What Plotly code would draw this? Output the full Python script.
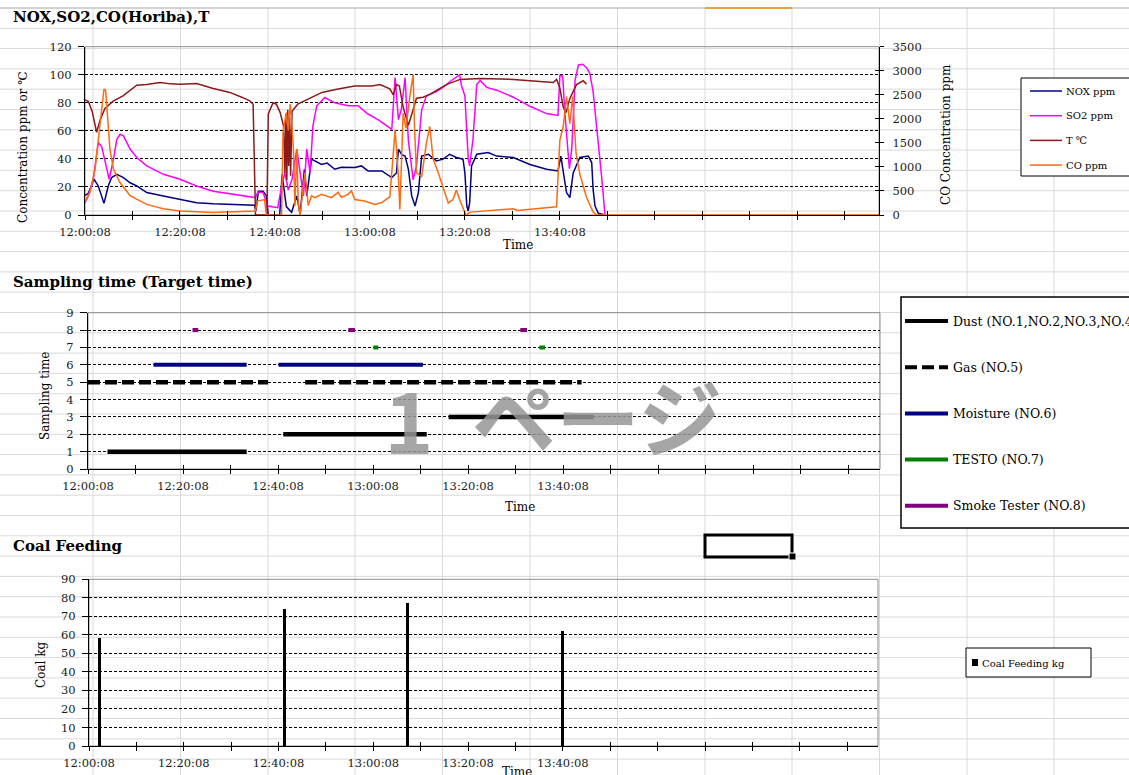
import pandas as pd
import plotly.graph_objects as go

W, H = 1129, 775
DAY = "2000-01-01 "
START = pd.Timestamp(DAY + "12:00:08")

# ---------------- Flue gas analyser (minutes after 12:00:08) ----------------
nox_min = [0, 0.7, 1.9, 2.8, 4.0, 4.9, 5.6, 6.7, 8.1, 9.5,
           10.9, 13.0, 16.5, 20.0, 23.5, 27.0, 34.0, 35.7, 36.0, 36.5,
           37.5, 38.2, 38.6, 41.0, 41.5, 42.4, 43.5, 44.6, 45.3, 46.2,
           46.7, 47.0, 47.7, 49.8, 51.0, 52.6, 54.0, 56.8, 58.2, 59.6,
           62.5, 64.6, 65.6, 66.0, 66.7, 67.4, 68.1, 68.8, 69.5, 70.2,
           70.9, 72.3, 74.0, 75.4, 76.8, 78.2, 79.6, 80.0, 80.4, 80.7,
           81.0, 81.4, 82.5, 84.9, 86.7, 90.2, 93.7, 97.2, 99.6, 100.2,
           100.7, 101.4, 102.1, 102.8, 104.2, 106.0, 106.7, 107.0, 107.4, 108.1,
           109.5]
nox_ppm = [14, 15.5, 25.5, 20.7, 8.3, 20.7, 26.7, 29, 26.7, 23,
           20.7, 16, 13.6, 11.2, 8.8, 8, 7.6, 7, 3, 17,
           17, 13.6, 0, 0, 29, 6, 2, 13.6, 0.5, 32.6,
           13.6, 20.7, 39.8, 36, 37, 32.6, 34, 33.8, 35, 31.4,
           31.4, 26.7, 30, 47, 43, 42, 32.6, 13.6, 6.4, 16,
           42, 43.3, 38.6, 39.8, 43.3, 41, 39.8, 30, 6.4, 2.9,
           8.8, 35, 43.3, 44.5, 42, 41, 36, 32.6, 31.4, 42,
           30, 16, 12.4, 30, 41, 42, 37.4, 18.3, 6.4, 1.2,
           0]

so2_min = [0, 0.7, 1.75, 2.8, 3.5, 4.55, 5.1, 6.0, 6.7, 7.4,
           8.1, 9.5, 10.9, 13.0, 16.5, 20.0, 23.5, 27.0, 30.5, 34.0,
           35.9, 36.4, 37.5, 38.5, 40.6, 41.4, 42.1, 42.8, 43.6, 44.6,
           45.3, 46.0, 46.7, 47.4, 48.0, 48.8, 50.5, 52.6, 55.4, 57.5,
           59.6, 61.7, 63.8, 64.6, 65.3, 66.0, 66.6, 67.4, 68.1, 69.1,
           69.8, 70.9, 71.9, 74.0, 75.8, 76.8, 78.9, 79.3, 80.0, 80.7,
           81.0, 81.7, 82.5, 83.2, 84.6, 86.7, 90.2, 93.7, 97.2, 99.6,
           100.0, 100.6, 101.0, 102.0, 102.5, 103.2, 103.9, 104.8, 105.6, 106.3,
           107.0, 108.1, 108.8, 109.5]
so2_ppm = [8.8, 13.6, 25.5, 51.7, 49, 32.6, 25.5, 39.8, 54, 57.6,
           56.4, 47, 41, 35, 29, 25.5, 20.7, 17, 15.2, 13.6,
           12.4, 16.4, 16, 6.4, 5.2, 20.7, 30, 18, 25.5, 47,
           30, 13.6, 47, 30, 63.6, 77.9, 83.8, 80, 77.9, 77.9,
           72, 68, 63, 61, 98, 68, 75, 98, 53, 25,
           35, 75, 85, 88, 92, 95, 100, 92, 85, 40,
           35, 54, 93, 96, 91, 89, 84, 77.5, 72.3, 71,
           99.5, 99, 75, 33, 47, 96, 107, 107.5, 105, 101,
           88, 53, 27, 0]

temp_min = [0, 0.7, 1.5, 2.45, 3.2, 4.2, 6.0, 8.0, 10.9, 13.0,
            15.8, 18.0, 20.0, 23.5, 27.0, 30.5, 33.0, 34.7, 35.4, 35.9,
            38.3, 38.6, 39.6, 40.3, 41.1, 41.8, 42.1, 42.3, 42.5, 42.7,
            42.9, 43.1, 43.3, 43.6, 44.8, 47.8, 49.9, 53.3, 56.8, 60.4,
            62.1, 64.2, 64.9, 65.6, 66.2, 67.0, 68.1, 69.1, 69.8, 71.2,
            72.6, 76.1, 79.0, 83.2, 90.2, 93.7, 98.6, 99.3, 100.0, 100.7,
            101.3, 102.1, 103.5, 104.9, 105.6]
temp_c = [82, 81, 74, 59, 68, 76, 81.4, 85, 92.6, 93,
          94.5, 93.5, 93.3, 93.8, 90.2, 87.4, 84, 81.4, 79, 0,
          0, 72, 80, 79, 73, 63.6, 30, 72, 25, 75,
          35, 70, 28, 74, 79, 84, 87.4, 89.8, 92, 92,
          93, 90, 85.7, 93, 92, 77, 64, 75, 83.3, 84,
          86, 93, 96.7, 97.4, 96.7, 95.7, 94.5, 96.7, 90.5, 77,
          73, 83, 93, 95.7, 93.3]

co_min = [0, 1.05, 2.1, 3.15, 4.0, 4.35, 4.7, 5.25, 6.0, 7.4,
          9.5, 13.0, 16.5, 20.0, 27.0, 34.0, 35.9, 36.3, 37.8, 38.2,
          41.4, 41.7, 42.4, 42.8, 43.2, 43.5, 43.9, 44.2, 44.6, 44.9,
          45.3, 46.0, 46.3, 46.7, 47.0, 47.7, 48.4, 49.8, 50.8, 51.9,
          53.3, 54.0, 55.4, 56.1, 56.8, 58.9, 61.0, 62.5, 64.2, 65.3,
          66.0, 66.3, 67.0, 67.6, 68.4, 69.1, 69.4, 69.8, 70.9, 71.9,
          72.6, 73.3, 74.4, 75.4, 76.5, 77.5, 78.2, 78.9, 80.2, 81.1,
          86.7, 90.2, 91.0, 97.2, 99.3, 100.0, 100.7, 101.4, 102.1, 102.7,
          103.4, 104.2, 105.6, 107.0, 107.7, 167.2]
co_ppm = [290, 470, 950, 1855, 2620, 2585, 2060, 1370, 950, 670,
          400, 220, 130, 85, 50, 70, 85, 290, 320, 0,
          0, 1715, 2130, 1760, 2305, 1970, 1370, 190, 1370, 260,
          0, 600, 870, 530, 200, 400, 360, 430, 400, 360,
          470, 370, 430, 500, 320, 290, 220, 260, 380, 1770,
          800, 115, 2120, 1800, 2465, 2917, 1800, 875, 800, 1500,
          1840, 1170, 875, 560, 250, 320, 520, 320, 0, 60,
          95, 130, 95, 150, 170, 1560, 1840, 2465, 1900, 2465,
          1290, 850, 370, 60, 0, 0]

gas_names = ["NOX ppm", "SO2 ppm", "T \u2103", "CO ppm"]
gas_colors = ["#000080", "#FF00FF", "#8B1A1A", "#FF6A10"]

# ---------------- Sampling periods (level on the y axis) ----------------
dust_level = [1, 2, 3]
dust_start = ["12:04:14", "12:41:14", "13:16:02"]
dust_end = ["12:33:32", "13:11:26", "13:46:32"]
gas_level = 5
gas_start = ["12:00:08", "12:45:50"]
gas_end = ["12:38:02", "13:44:02"]
moist_level = 6
moist_start = ["12:13:56", "12:40:14"]
moist_end = ["12:33:32", "13:10:38"]
testo_level = 7
testo_start = ["13:00:12", "13:35:08"]
testo_end = ["13:01:14", "13:36:20"]
smoke_level = 8
smoke_start = ["12:22:08", "12:54:56", "13:31:08"]
smoke_end = ["12:23:20", "12:56:20", "13:32:32"]

sampling_names = ["Dust (NO.1,NO.2,NO.3,NO.4)", "Gas (NO.5)", "Moisture (NO.6)",
                  "TESTO (NO.7)", "Smoke Tester (NO.8)"]

# ---------------- Coal feeding ----------------
coal_time = ["12:02:18", "12:41:29", "13:07:20", "13:40:08"]
coal_kg = [58, 74, 77, 62]

time_labels = ["12:00:08", "12:20:08", "12:40:08", "13:00:08", "13:20:08", "13:40:08"]


def at(minutes):
    return [START + pd.Timedelta(minutes=m) for m in minutes]


def clock(times):
    return [pd.Timestamp(DAY + t) for t in times]


def runs(starts, ends, levels):
    xs, ys = [], []
    for s, e, lv in zip(starts, ends, levels):
        xs += [pd.Timestamp(DAY + s), pd.Timestamp(DAY + e), None]
        ys += [lv, lv, None]
    return xs, ys


def px(x):
    return x / W


def py(y):
    return 1 - y / H


SERIF = "DejaVu Serif"
TICKFONT = dict(family=SERIF, size=11.5, color="#1a1a1a")

tick_times = at([10 * k for k in range(17)])
tick_text = [t.strftime("%H:%M:%S") if t.strftime("%H:%M:%S") in time_labels else "" for t in tick_times]

fig = go.Figure()

# empty traces so that the helper axes (dashed grids, inner tick marks) get drawn
for xa, ya in [("x", "y5"), ("x", "y6"), ("x4", "y"), ("x2", "y7"), ("x5", "y3"), ("x3", "y8"), ("x6", "y4")]:
    fig.add_trace(go.Scatter(x=[None], y=[None], mode="lines", xaxis=xa, yaxis=ya,
                             showlegend=False, hoverinfo="skip"))

# --- top: concentrations ---
for mins, vals, name, col, ax in [
    (nox_min, nox_ppm, gas_names[0], gas_colors[0], "y"),
    (so2_min, so2_ppm, gas_names[1], gas_colors[1], "y"),
    (temp_min, temp_c, gas_names[2], gas_colors[2], "y"),
    (co_min, co_ppm, gas_names[3], gas_colors[3], "y2"),
]:
    fig.add_trace(go.Scatter(x=at(mins), y=vals, name=name, mode="lines",
                             line=dict(color=col, width=1.5),
                             xaxis="x", yaxis=ax, showlegend=False))

# --- middle: sampling periods ---
sx, sy = runs(dust_start, dust_end, dust_level)
fig.add_trace(go.Scatter(x=sx, y=sy, mode="lines", name=sampling_names[0],
                         line=dict(color="black", width=4.5), xaxis="x2", yaxis="y3", showlegend=False))
sx, sy = runs(gas_start, gas_end, [gas_level] * len(gas_start))
fig.add_trace(go.Scatter(x=sx, y=sy, mode="lines", name=sampling_names[1],
                         line=dict(color="black", width=4.5, dash="12px,5px"), xaxis="x2", yaxis="y3", showlegend=False))
sx, sy = runs(moist_start, moist_end, [moist_level] * len(moist_start))
fig.add_trace(go.Scatter(x=sx, y=sy, mode="lines", name=sampling_names[2],
                         line=dict(color="#000080", width=4), xaxis="x2", yaxis="y3", showlegend=False))
sx, sy = runs(testo_start, testo_end, [testo_level] * len(testo_start))
fig.add_trace(go.Scatter(x=sx, y=sy, mode="lines", name=sampling_names[3],
                         line=dict(color="#008000", width=4), xaxis="x2", yaxis="y3", showlegend=False))
sx, sy = runs(smoke_start, smoke_end, [smoke_level] * len(smoke_start))
fig.add_trace(go.Scatter(x=sx, y=sy, mode="lines", name=sampling_names[4],
                         line=dict(color="#800080", width=4), xaxis="x2", yaxis="y3", showlegend=False))

# --- bottom: coal feeding ---
fig.add_trace(go.Bar(x=clock(coal_time), y=coal_kg, width=38000, marker=dict(color="black", line=dict(width=0)),
                     name="Coal Feeding kg", xaxis="x3", yaxis="y4", showlegend=False))


def xmain(dom, rng_min, anchor):
    return dict(domain=[px(dom[0]), px(dom[1])], anchor=anchor, type="date",
                range=[START, START + pd.Timedelta(minutes=rng_min)],
                tickmode="array", tickvals=tick_times, ticktext=tick_text,
                ticks="outside", ticklen=4, tickwidth=1.3, tickcolor="black",
                showline=True, linecolor="black", linewidth=1.3, showgrid=False,
                zeroline=False, tickfont=TICKFONT, layer="below traces", ticklabelstandoff=2)


def xover(over, rng_min, anchor):
    return dict(overlaying=over, anchor=anchor, type="date",
                range=[START, START + pd.Timedelta(minutes=rng_min)],
                tickmode="array", tickvals=tick_times, ticks="inside", ticklen=4,
                tickwidth=1.3, tickcolor="black", showticklabels=False,
                showline=False, showgrid=False, zeroline=False)


def ymain(dom, rng, vals, anchor, ticklen=6):
    return dict(domain=[py(dom[0]), py(dom[1])], anchor=anchor, range=rng,
                tickmode="array", tickvals=vals, ticks="outside", ticklen=ticklen,
                tickwidth=1.3, tickcolor="black", showline=True, linecolor="black",
                linewidth=1.3, showgrid=False, zeroline=False, tickfont=TICKFONT,
                ticklabelstandoff=4)


def ygrid(over, rng, vals, anchor):
    return dict(overlaying=over, anchor=anchor, range=rng, tickmode="array", tickvals=vals,
                showgrid=True, gridcolor="black", griddash="3px,2px", gridwidth=1,
                ticks="", showticklabels=False, showline=False, zeroline=False)


co_ticks = list(range(0, 3501, 500))

fig.update_layout(
    xaxis=xmain((85, 879), 167.2, "y"),
    xaxis4=xover("x", 167.2, "y"),
    yaxis=ymain((215, 46.7), [0, 120], list(range(0, 121, 20)), "x"),
    yaxis2=dict(overlaying="y", side="right", anchor="x", range=[0, 3500],
                tickmode="array", tickvals=co_ticks, ticks="outside", ticklen=4,
                tickwidth=1.3, tickcolor="black", showline=True, linecolor="black",
                linewidth=1.3, showgrid=False, zeroline=False, tickfont=TICKFONT,
                ticklabelstandoff=6),
    yaxis5=ygrid("y", [0, 120], list(range(20, 101, 20)), "x"),
    yaxis6=dict(overlaying="y", side="right", anchor="x", range=[0, 3500],
                tickmode="array", tickvals=co_ticks, ticks="inside", ticklen=4,
                tickwidth=1.3, tickcolor="black", showticklabels=False,
                showline=False, showgrid=False, zeroline=False),
    xaxis2=xmain((88, 880), 166.7, "y3"),
    xaxis5=xover("x2", 166.7, "y3"),
    yaxis3=ymain((469, 312.7), [0, 9], list(range(0, 10)), "x2", ticklen=7),
    yaxis7=ygrid("y3", [0, 9], list(range(1, 9)), "x2"),
    xaxis3=xmain((89, 878), 166.5, "y4"),
    xaxis6=xover("x3", 166.5, "y4"),
    yaxis4=ymain((746, 579.3), [0, 90], list(range(0, 91, 10)), "x3", ticklen=6),
    yaxis8=ygrid("y4", [0, 90], list(range(10, 81, 10)), "x3"),
)

shapes = []
# worksheet cell lines
col_x = [93, 180.5, 268, 355, 442.5, 530, 617.5, 705, 792, 879.5, 967, 1054]
for cx in col_x:
    shapes.append(dict(type="line", xref="paper", yref="paper", x0=px(cx), x1=px(cx), y0=py(8), y1=py(H),
                       line=dict(color="#d9d9d9", width=1), layer="below"))
for k in range(1, 38):
    ry = 8 + 20.3 * k
    shapes.append(dict(type="line", xref="paper", yref="paper", x0=0, x1=1, y0=py(ry), y1=py(ry),
                       line=dict(color="#d9d9d9", width=1), layer="below"))
shapes.append(dict(type="line", xref="paper", yref="paper", x0=0, x1=1, y0=py(8), y1=py(8),
                   line=dict(color="#a8a8a8", width=1), layer="below"))
shapes.append(dict(type="line", xref="paper", yref="paper", x0=px(705), x1=px(792), y0=py(8), y1=py(8),
                   line=dict(color="#E8A23C", width=2), layer="below"))

# plot area borders
for xr, yr in [("x", "y"), ("x2", "y3"), ("x3", "y4")]:
    shapes.append(dict(type="rect", xref=xr + " domain", yref=yr + " domain", x0=0, x1=1, y0=0, y1=1,
                       line=dict(color="#8c8c8c", width=1), layer="below"))

# selected cell
shapes.append(dict(type="rect", xref="paper", yref="paper", x0=px(705), x1=px(792), y0=py(557), y1=py(535),
                   line=dict(color="black", width=3)))
shapes.append(dict(type="rect", xref="paper", yref="paper", x0=px(789), x1=px(796), y0=py(560), y1=py(553),
                   fillcolor="black", line=dict(color="white", width=1)))

annotations = []

# legend: gas analyser
shapes.append(dict(type="rect", xref="paper", yref="paper", x0=px(1021), x1=px(1140), y0=py(176), y1=py(78),
                   fillcolor="white", line=dict(color="black", width=1)))
for i, (name, col) in enumerate(zip(gas_names, gas_colors)):
    ly = 91 + 24.7 * i
    shapes.append(dict(type="line", xref="paper", yref="paper", x0=px(1030), x1=px(1062), y0=py(ly), y1=py(ly),
                       line=dict(color=col, width=1.5)))
    annotations.append(dict(x=px(1064), y=py(ly), xref="paper", yref="paper", text=name, showarrow=False,
                            xanchor="left", yanchor="middle", font=dict(family=SERIF, size=10, color="black")))

# legend: sampling
shapes.append(dict(type="rect", xref="paper", yref="paper", x0=px(901), x1=px(1140), y0=py(528), y1=py(297),
                   fillcolor="white", line=dict(color="black", width=1.5)))
samp_styles = [("black", "solid"), ("black", "12px,5px"), ("#000080", "solid"), ("#008000", "solid"), ("#800080", "solid")]
for i, (name, (col, dash)) in enumerate(zip(sampling_names, samp_styles)):
    ly = 321 + 46.2 * i
    shapes.append(dict(type="line", xref="paper", yref="paper", x0=px(905), x1=px(948), y0=py(ly), y1=py(ly),
                       line=dict(color=col, width=4, dash=dash)))
    annotations.append(dict(x=px(951), y=py(ly), xref="paper", yref="paper", text=name, showarrow=False,
                            xanchor="left", yanchor="middle", font=dict(family=SERIF, size=12.5, color="black")))

# legend: coal
shapes.append(dict(type="rect", xref="paper", yref="paper", x0=px(966), x1=px(1091), y0=py(677), y1=py(648),
                   fillcolor="white", line=dict(color="black", width=1)))
shapes.append(dict(type="rect", xref="paper", yref="paper", x0=px(972), x1=px(978), y0=py(666), y1=py(659),
                   fillcolor="black", line=dict(width=0)))
annotations.append(dict(x=px(980), y=py(663), xref="paper", yref="paper", text="Coal Feeding kg", showarrow=False,
                        xanchor="left", yanchor="middle", font=dict(family=SERIF, size=10, color="black")))

# chart titles
for txt, ty in [("NOX,SO2,CO(Horiba),T", 17), ("Sampling time (Target time)", 282), ("Coal Feeding", 546)]:
    annotations.append(dict(x=px(11), y=py(ty), xref="paper", yref="paper", text="<b>" + txt + "</b>",
                            showarrow=False, xanchor="left", yanchor="middle",
                            font=dict(family=SERIF, size=15, color="black")))

# axis titles
AXFONT = dict(family=SERIF, size=12, color="black")
for txt, ax_, ay_ in [("Time", 518, 245), ("Time", 520, 507), ("Time", 517, 772)]:
    annotations.append(dict(x=px(ax_), y=py(ay_), xref="paper", yref="paper", text=txt, showarrow=False,
                            xanchor="center", yanchor="middle", font=AXFONT))
for txt, ax_, ay_ in [("Concentration ppm or \u2103", 23, 147), ("CO Concentration ppm", 946, 135),
                      ("Sampling time", 45, 396), ("Coal kg", 41, 665)]:
    annotations.append(dict(x=px(ax_), y=py(ay_), xref="paper", yref="paper", text=txt, showarrow=False,
                            textangle=-90, xanchor="center", yanchor="middle", font=AXFONT))

# page watermark
WM = dict(family="Noto Sans CJK JP", size=84, color="rgba(150,150,150,0.85)", weight="bold")
annotations.append(dict(x=px(409), y=py(418), xref="paper", yref="paper", text="1", showarrow=False,
                        xanchor="center", yanchor="middle", font=WM))
annotations.append(dict(x=px(597), y=py(414), xref="paper", yref="paper", text="ページ", showarrow=False,
                        xanchor="center", yanchor="middle", font=WM))

fig.update_layout(
    width=W, height=H,
    margin=dict(l=0, r=0, t=0, b=0, autoexpand=False),
    paper_bgcolor="white", plot_bgcolor="rgba(0,0,0,0)",
    font=dict(family=SERIF, color="black"),
    shapes=shapes, annotations=annotations,
    showlegend=False, bargap=0,
)

fig.write_html("out.html")
